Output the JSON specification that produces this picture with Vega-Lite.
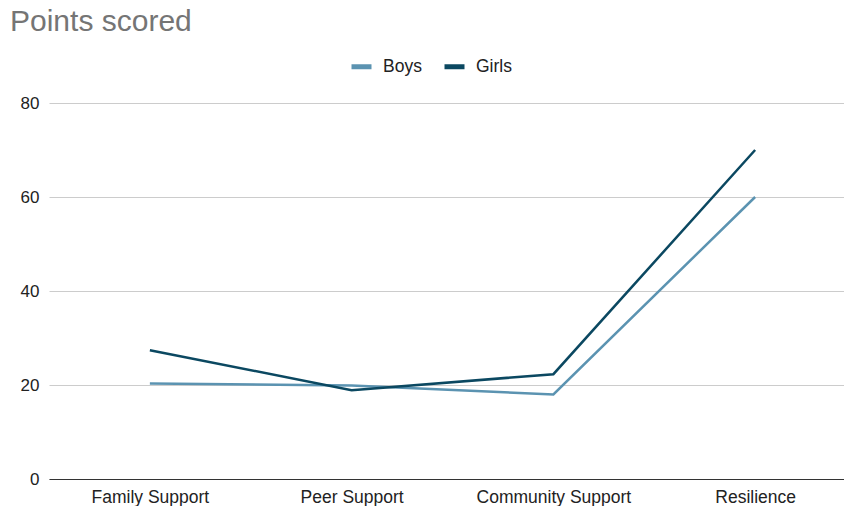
{
  "$schema": "https://vega.github.io/schema/vega-lite/v6.json",
  "width": 807,
  "height": 376,
  "autosize": {"type": "none"},
  "padding": {"left": 49, "top": 103, "right": 0, "bottom": 27},
  "background": "white",
  "title": {
    "text": "Points scored",
    "anchor": "start",
    "frame": "group",
    "orient": "top",
    "baseline": "alphabetic",
    "offset": -7,
    "dx": -39,
    "font": "Liberation Sans",
    "fontSize": 30,
    "fontWeight": "normal",
    "color": "#757575"
  },
  "data": {
    "values": [
      {"category": "Family Support", "group": "Boys", "points": 20.3},
      {"category": "Peer Support", "group": "Boys", "points": 19.9},
      {"category": "Community Support", "group": "Boys", "points": 18.0},
      {"category": "Resilience", "group": "Boys", "points": 60},
      {"category": "Family Support", "group": "Girls", "points": 27.4},
      {"category": "Peer Support", "group": "Girls", "points": 18.9},
      {"category": "Community Support", "group": "Girls", "points": 22.3},
      {"category": "Resilience", "group": "Girls", "points": 70}
    ]
  },
  "mark": {"type": "line", "strokeWidth": 2.5},
  "encoding": {
    "x": {
      "field": "category",
      "type": "nominal",
      "sort": ["Family Support", "Peer Support", "Community Support", "Resilience"],
      "scale": {"padding": 0.5},
      "axis": {
        "title": null,
        "labelAngle": 0,
        "labelFont": "Liberation Sans",
        "labelFontSize": 17.5,
        "labelColor": "#222222",
        "ticks": false,
        "labelPadding": 9,
        "domainColor": "#333333",
        "domainWidth": 1.2,
        "grid": false
      }
    },
    "y": {
      "field": "points",
      "type": "quantitative",
      "scale": {"domain": [0, 80], "nice": false},
      "axis": {
        "title": null,
        "values": [0, 20, 40, 60, 80],
        "labelFont": "Liberation Sans",
        "labelFontSize": 17,
        "labelColor": "#222222",
        "ticks": false,
        "domain": false,
        "labelPadding": 10,
        "gridColor": "#cccccc",
        "gridWidth": 1
      }
    },
    "color": {
      "field": "group",
      "type": "nominal",
      "scale": {"domain": ["Boys", "Girls"], "range": ["#5b93b1", "#0b4861"]},
      "legend": {
        "title": null,
        "orient": "none",
        "direction": "horizontal",
        "legendX": 300,
        "legendY": -49,
        "symbolType": "stroke",
        "symbolSize": 400,
        "symbolStrokeWidth": 5,
        "labelFont": "Liberation Sans",
        "labelFontSize": 17.5,
        "labelColor": "#222222",
        "labelOffset": 9,
        "columnPadding": 12,
        "padding": 0
      }
    }
  },
  "config": {"view": {"stroke": null}}
}
